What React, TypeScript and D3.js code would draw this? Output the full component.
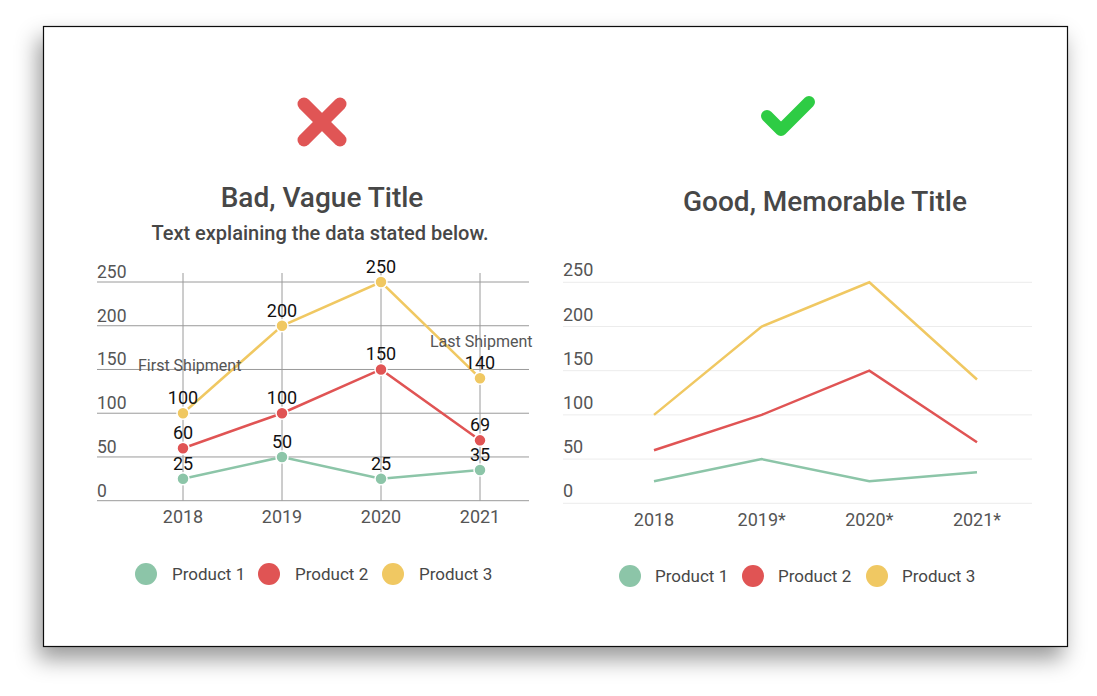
import React from "react";
import * as d3 from "d3";

const years = ["2018", "2019", "2020", "2021"];
const yearsGood = ["2018", "2019*", "2020*", "2021*"];
const yTicks = [0, 50, 100, 150, 200, 250];
const product1 = [25, 50, 25, 35];
const product2 = [60, 100, 150, 69];
const product3 = [100, 200, 250, 140];
const seriesNames = ["Product 1", "Product 2", "Product 3"];
const seriesColors = ["#8cc5a8", "#e05454", "#f0c862"];
const series = [product1, product2, product3];

const FONT = "Roboto, 'Noto Sans', sans-serif";
const TXT = "#474747";

export default function App() {
  // left (bad) chart
  const xL = d3.scalePoint<string>().domain(years).range([183, 480]);
  const yL = d3.scaleLinear().domain([0, 250]).range([500.7, 282]);
  // right (good) chart
  const xR = d3.scalePoint<string>().domain(yearsGood).range([654, 977]);
  const yR = d3.scaleLinear().domain([0, 250]).range([503.3, 282.3]);

  const lineL = (vals: number[]) =>
    d3.line<number>().x((_, i) => xL(years[i])!).y((v) => yL(v))(vals)!;
  const lineR = (vals: number[]) =>
    d3.line<number>().x((_, i) => xR(yearsGood[i])!).y((v) => yR(v))(vals)!;

  const legendL = [146, 269, 393];
  const legendR = [630, 753, 877];

  return (
    <div style={{ position: "absolute", left: 0, top: 0 }}>
      <svg width={1097} height={696} style={{ display: "block", fontFamily: FONT }}>
        <defs>
          <filter id="sh" x="-10%" y="-10%" width="120%" height="125%">
            <feDropShadow dx={-5} dy={12} stdDeviation={11} floodColor="#000" floodOpacity={0.4} />
          </filter>
        </defs>
        <rect x={0} y={0} width={1097} height={696} fill="#fff" />
        <rect x={43.5} y={26.5} width={1024} height={620} fill="#fff" stroke="#111" strokeWidth={1.2} filter="url(#sh)" />

        {/* Icons */}
        <g stroke="#e05555" strokeWidth={13} strokeLinecap="round">
          <line x1={304} y1={104} x2={340} y2={140} />
          <line x1={340} y1={104} x2={304} y2={140} />
        </g>
        <polyline points="767,116 781,130 809,102" fill="none" stroke="#2ecc44" strokeWidth={12} strokeLinecap="round" strokeLinejoin="round" />

        {/* Titles */}
        <text x={322} y={207} textAnchor="middle" fontSize={28} fontWeight={500} fill={TXT}>Bad, Vague Title</text>
        <text x={320} y={240} textAnchor="middle" fontSize={20} fontWeight={500} fill={TXT}>Text explaining the data stated below.</text>
        <text x={825} y={211} textAnchor="middle" fontSize={28} fontWeight={500} fill={TXT}>Good, Memorable Title</text>

        {/* Left chart grid */}
        <g stroke="#9a9a9a" strokeWidth={1}>
          {yTicks.map((t) => (
            <line key={"h" + t} x1={97} x2={529} y1={yL(t)} y2={yL(t)} />
          ))}
          {years.map((yr) => (
            <line key={"v" + yr} x1={xL(yr)} x2={xL(yr)} y1={273} y2={yL(0)} />
          ))}
        </g>
        {yTicks.map((t) => (
          <text key={"yl" + t} x={97} y={yL(t) - 4} fontSize={17.5} fill="#555">{t}</text>
        ))}
        {years.map((yr) => (
          <text key={"xl" + yr} x={xL(yr)} y={523} textAnchor="middle" fontSize={18} fill="#555">{yr}</text>
        ))}
        {series.map((vals, si) => (
          <path key={"pl" + si} d={lineL(vals)} fill="none" stroke={seriesColors[si]} strokeWidth={2.5} />
        ))}
        {series.map((vals, si) =>
          vals.map((v, i) => (
            <circle key={"c" + si + i} cx={xL(years[i])} cy={yL(v)} r={6} fill={seriesColors[si]} stroke="#fff" strokeWidth={1.5} />
          ))
        )}
        {series.map((vals, si) =>
          vals.map((v, i) => (
            <text key={"dl" + si + i} x={xL(years[i])} y={yL(v) - 9} textAnchor="middle" fontSize={18} fill="#111">{v}</text>
          ))
        )}
        <text x={138} y={371} fontSize={16} fill="#555">First Shipment</text>
        <text x={430} y={347} fontSize={16} fill="#555">Last Shipment</text>

        {/* Left legend */}
        {seriesNames.map((n, i) => (
          <g key={"lg" + i}>
            <circle cx={legendL[i]} cy={574} r={11} fill={seriesColors[i]} />
            <text x={legendL[i] + 26} y={580} fontSize={17} fill={TXT}>{n}</text>
          </g>
        ))}

        {/* Right chart */}
        <g stroke="#ececec" strokeWidth={1}>
          {yTicks.map((t) => (
            <line key={"rh" + t} x1={563} x2={1032} y1={yR(t)} y2={yR(t)} />
          ))}
        </g>
        {yTicks.map((t) => (
          <text key={"ryl" + t} x={563} y={yR(t) - 6} fontSize={18} fill="#555">{t}</text>
        ))}
        {yearsGood.map((yr) => (
          <text key={"rxl" + yr} x={xR(yr)} y={526} textAnchor="middle" fontSize={18} fill="#555">{yr}</text>
        ))}
        {series.map((vals, si) => (
          <path key={"pr" + si} d={lineR(vals)} fill="none" stroke={seriesColors[si]} strokeWidth={2.5} />
        ))}
        {seriesNames.map((n, i) => (
          <g key={"rg" + i}>
            <circle cx={legendR[i]} cy={576} r={11} fill={seriesColors[i]} />
            <text x={legendR[i] + 25} y={582} fontSize={17} fill={TXT}>{n}</text>
          </g>
        ))}
      </svg>
    </div>
  );
}
